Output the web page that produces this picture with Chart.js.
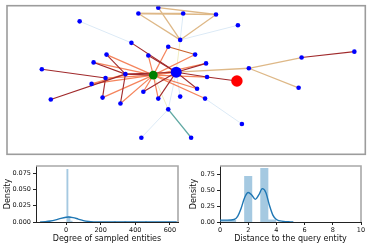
<!DOCTYPE html>
<html><head><meta charset="utf-8">
<script src="https://cdn.jsdelivr.net/npm/chart.js@4"></script>
<style>
html,body{margin:0;padding:0;background:#fff;width:371px;height:247px;overflow:hidden}
canvas{position:absolute;display:block}
</style></head><body>
<canvas id="net" width="371" height="160" style="left:0;top:0;width:371px;height:160px"></canvas>
<canvas id="deg" width="185" height="87" style="left:0;top:160px;width:185px;height:87px"></canvas>
<canvas id="dist" width="185" height="87" style="left:186px;top:160px;width:185px;height:87px"></canvas>
<script>
// ---- network layout (node positions) ----
const nodeX = [159,139,184,217,80,239,181,132,169,196,107,149,356,303,207,94,250,42,177,154,126,106,208,238,92,198,300,144,181,159,206,103,51,121,169,243,142,192];
const nodeY = [7,13,13,14,21,25,40,43,47,55,55,56,52,58,64,63,69,70,73,76,75,79,78,82,85,90,89,93,98,100,100,99,101,105,111,126,140,140];
const nodeKind = ['s','s','s','s','s','s','s','s','s','s','s','s','s','s','s','s','s','s','q','g','s','s','s','r','s','s','s','s','s','s','s','s','s','s','s','s','s','s'];
const edgeFrom = [0,0,1,1,1,3, 18,16,16, 12,7,11,14,10,15,17,20,20,21,32,33,18,22,18,18,18,8,
                  8,11,9,14,10,15,21,24,24,31,33,25,30,27,29,22,19,
                  4,6,2,34,34,30,28, 6,34, 34];
const edgeTo   = [3,6,3,2,6,6, 16,13,26, 13,18,18,18,20,20,21,19,18,31,20,20,22,23,25,27,29,9,
                  19,19,19,19,19,19,19,19,20,19,19,19,19,19,19,19,18,
                  7,5,6,18,36,35,18, 18,19, 37];
const edgeType = ['t','t','t','t','t','t', 't','t','t', 'd','d','d','d','d','d','d','d','d','d','d','d','d','d','d','d','d','m',
                  'o','o','o','o','o','o','o','o','o','o','o','o','o','o','o','o','o',
                  'b','b','b','b','b','b','b', 'y','y', 'c'];

// ---- degree distribution ----
const degBinLeft   = [1, 13, 25, 276, 336, 456];
const degBinRight  = [13, 25, 37, 288, 348, 468];
const degBinHeight = [0.0815, 0.009, 0.002, 0.0012, 0.0012, 0.0012];
const degKdeX = [-150,-120,-90,-60,-30,0,15,40,70,100,130,160,200,300,400,500,640];
const degKdeY = [0.0001,0.0005,0.0015,0.0033,0.0056,0.0073,0.0077,0.0068,0.0045,0.0022,0.0008,0.0002,0,0,0,0,0];
const degXTicks = [0,200,400,600];
const degYTicks = [0,0.025,0.05,0.075];

// ---- distance distribution ----
const distBinLeft   = [0, 0.571, 1.714, 2.857, 3.429];
const distBinRight  = [0.571, 1.143, 2.286, 3.429, 4.0];
const distBinHeight = [0.03, 0.03, 0.73, 0.86, 0.04];
const distKdeX = [0,0.5,1.0,1.25,1.5,1.75,2.0,2.25,2.5,2.75,3.0,3.25,3.5,3.75,4.0,4.5,5.0,5.2];
const distKdeY = [0.03,0.03,0.04,0.09,0.22,0.39,0.47,0.43,0.36,0.43,0.53,0.47,0.27,0.11,0.04,0.01,0.002,0];
const distXTicks = [0,2,4,6,8,10];
const distYTicks = [0,0.25,0.5,0.75];

Chart.defaults.font.family = 'DejaVu Sans';
Chart.defaults.color = '#111';

const edgeStyle = {
  d:{c:'#a0292b',w:1.1,o:3}, m:{c:'#c8602a',w:1.1,o:3}, o:{c:'#f5845c',w:1.2,o:4},
  t:{c:'#deb887',w:1.3,o:4}, c:{c:'#5fa8a2',w:1.4,o:4}, b:{c:'#dceaf6',w:1.0,o:6}, y:{c:'#f1edc0',w:1.0,o:5}
};
const kindStyle = {s:{c:'#0000ff',r:2.3}, q:{c:'#0000ff',r:5.5}, g:{c:'#008000',r:4.4}, r:{c:'#ff0000',r:5.7}};

const netDatasets = edgeFrom.map((f,i)=>{
  const st = edgeStyle[edgeType[i]];
  return {type:'line', data:[{x:nodeX[f],y:nodeY[f]},{x:nodeX[edgeTo[i]],y:nodeY[edgeTo[i]]}],
    borderColor:st.c, borderWidth:st.w, pointRadius:0, order:st.o, fill:false, clip:false};
});
netDatasets.push({type:'scatter', data:nodeX.map((x,i)=>({x,y:nodeY[i]})),
  pointRadius:nodeKind.map(k=>kindStyle[k].r), pointBackgroundColor:nodeKind.map(k=>kindStyle[k].c),
  pointBorderWidth:0, borderWidth:0, order:0, clip:false});

const framePlugin = {id:'frame', afterDraw(c){
  const a=c.chartArea, ctx=c.ctx; ctx.save(); ctx.strokeStyle='#9c9c9c'; ctx.lineWidth=1.6;
  ctx.strokeRect(a.left,a.top,a.right-a.left,a.bottom-a.top); ctx.restore();}};

new Chart(document.getElementById('net'), {
  type:'scatter', data:{datasets:netDatasets},
  options:{responsive:false, animation:false, events:[],
    layout:{padding:{left:7,top:5,right:4,bottom:3}},
    plugins:{legend:{display:false}, tooltip:{enabled:false}},
    scales:{x:{type:'linear',min:7,max:367,display:false}, y:{type:'linear',min:5,max:157,reverse:true,display:false}}},
  plugins:[framePlugin]
});

const spinePlugin = {id:'spines', afterDraw(c){
  const a=c.chartArea, ctx=c.ctx; ctx.save(); ctx.strokeStyle='#a8a8a8'; ctx.lineWidth=1.6;
  ctx.beginPath(); ctx.moveTo(a.left,a.top); ctx.lineTo(a.right,a.top); ctx.lineTo(a.right,a.bottom); ctx.stroke(); ctx.restore();}};

function histPoints(L,R,H){
  const p=[]; L.forEach((l,i)=>{p.push({x:l,y:0},{x:l,y:H[i]},{x:R[i],y:H[i]},{x:R[i],y:0});}); return p;
}
function distChart(id, cfg){
  new Chart(document.getElementById(id), {
    type:'line',
    data:{datasets:[
      {data:histPoints(cfg.bl,cfg.br,cfg.bh), fill:'origin', backgroundColor:'rgba(31,119,180,0.4)', borderWidth:0, borderColor:'rgba(0,0,0,0)', pointRadius:0, tension:0, order:2},
      {data:cfg.kx.map((x,i)=>({x,y:cfg.ky[i]})), fill:false, borderColor:'#1f77b4', borderWidth:1.4, pointRadius:0, cubicInterpolationMode:'monotone', order:1}
    ]},
    options:{responsive:false, animation:false, events:[],
      layout:{padding:{left:0,top:6,right:cfg.padR,bottom:0}},
      plugins:{legend:{display:false}, tooltip:{enabled:false}},
      scales:{
        x:{type:'linear', min:cfg.xmin, max:cfg.xmax,
          afterBuildTicks:s=>{s.ticks=cfg.xt.map(v=>({value:v}));},
          afterFit:s=>{s.height=25;},
          ticks:{font:{size:6.5}, padding:1.5, maxRotation:0, autoSkip:false, color:'#111', callback:v=>String(v)},
          grid:{display:true, drawOnChartArea:false, drawTicks:true, tickLength:3, tickColor:'#222'},
          border:{display:true, color:'#222', width:1},
          title:{display:true, text:cfg.xlabel, font:{size:8}, color:'#111', padding:{top:0,bottom:3.5}}},
        y:{type:'linear', min:0, max:cfg.ymax,
          afterBuildTicks:s=>{s.ticks=cfg.yt.map(v=>({value:v}));},
          afterFit:s=>{s.width=cfg.yw;},
          ticks:{font:{size:6.5}, padding:2, autoSkip:false, color:'#111', callback:v=>v.toFixed(cfg.dec)},
          grid:{display:true, drawOnChartArea:false, drawTicks:true, tickLength:3, tickColor:'#222'},
          border:{display:true, color:'#222', width:1},
          title:{display:true, text:'Density', font:{size:8}, color:'#111', padding:{top:3,bottom:0}}}
      }},
    plugins:[spinePlugin]
  });
}
distChart('deg', {bl:degBinLeft, br:degBinRight, bh:degBinHeight, kx:degKdeX, ky:degKdeY, xt:degXTicks, yt:degYTicks,
  xmin:-174, xmax:647, ymax:0.086, dec:3, yw:36, padR:7, xlabel:'Degree of sampled entities'});
distChart('dist', {bl:distBinLeft, br:distBinRight, bh:distBinHeight, kx:distKdeX, ky:distKdeY, xt:distXTicks, yt:distYTicks,
  xmin:0, xmax:10, ymax:0.89, dec:2, yw:34, padR:10, xlabel:'Distance to the query entity'});
</script>
</body></html>
